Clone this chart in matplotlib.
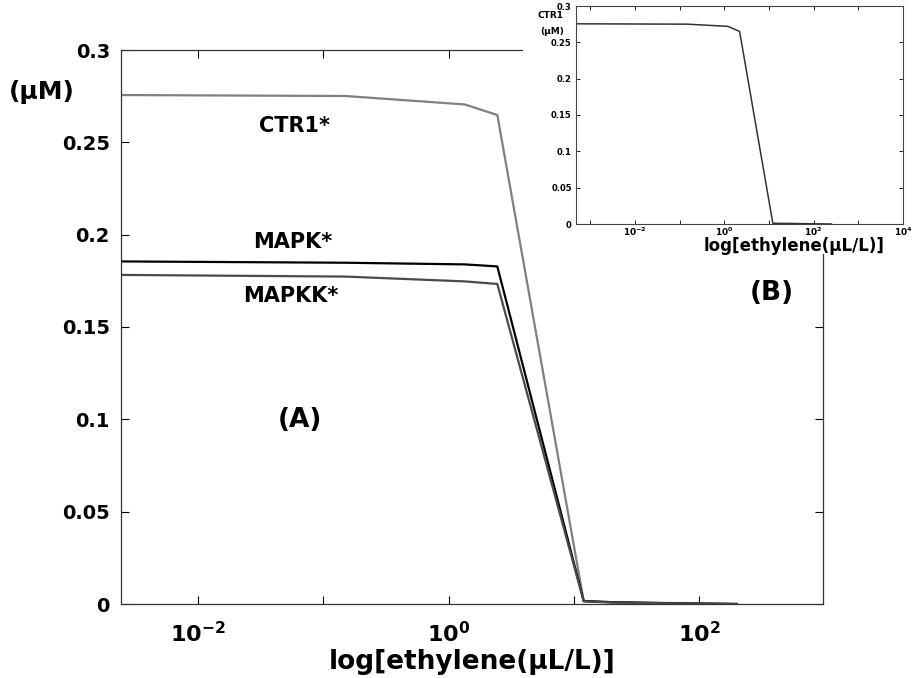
import numpy as np
import matplotlib
matplotlib.use("Agg")
import matplotlib.pyplot as plt
from matplotlib.ticker import NullFormatter, FixedLocator

plt.rcParams['font.family'] = ['DejaVu Sans']
plt.rcParams['font.weight'] = 'bold'
plt.rcParams['mathtext.default'] = 'bf'

# main panel (A): steady-state levels vs ethylene
eth = [0.0025, 0.15, 1.35, 2.45, 12.0, 20.0, 50.0, 200.0]
ctr1 = [0.2756, 0.2751, 0.2705, 0.2648, 0.0016, 0.0010, 0.0006, 0.0]
mapk = [0.1855, 0.1848, 0.1839, 0.1828, 0.0016, 0.0010, 0.0005, 0.0]
mapkk = [0.1782, 0.1773, 0.1747, 0.1733, 0.0014, 0.0008, 0.0004, 0.0]

# inset panel (B): CTR1 alone
eth_b = [5e-4, 0.15, 1.2, 2.2, 12.2, 250.0]
ctr1_b = [0.2755, 0.2750, 0.2720, 0.2650, 0.001, 0.0]

yticks = [0, 0.05, 0.1, 0.15, 0.2, 0.25, 0.3]
ylabels = ['0', '0.05', '0.1', '0.15', '0.2', '0.25', '0.3']

W, H = 913, 678
fig = plt.figure(figsize=(W / 100, H / 100), dpi=100)

def box(l, t, r, b):
    return [l / W, 1 - b / H, (r - l) / W, (b - t) / H]

ax = fig.add_axes(box(121, 50, 823, 604), zorder=1)
ax.plot(eth, ctr1, color='#808080', lw=1.6)
ax.plot(eth, mapk, color='black', lw=1.6)
ax.plot(eth, mapkk, color='#4a4a4a', lw=1.6)
ax.set_xscale('log')
ax.set_xlim(10 ** -2.616, 10 ** 2.99)
ax.set_ylim(0, 0.3)
ax.set_yticks(yticks)
ax.set_yticklabels(ylabels, fontsize=14)
ax.xaxis.set_major_locator(FixedLocator([1e-2, 1e0, 1e2]))
ax.xaxis.set_minor_locator(FixedLocator([1e-1, 1e1]))
ax.xaxis.set_minor_formatter(NullFormatter())
ax.set_xticklabels([r'$10^{-2}$', r'$10^{0}$', r'$10^{2}$'], fontsize=16)
ax.tick_params(which='both', direction='in', top=True, right=True, length=6, width=0.8, pad=8)
ax.tick_params(axis='x', pad=12)
for s in ax.spines.values():
    s.set_linewidth(0.9)
    s.set_color('#333333')
ax.set_xlabel('log[ethylene(\u00b5L/L)]', fontsize=19, fontweight='bold', labelpad=2)
fig.text(42 / W, 1 - 92 / H, '(\u00b5M)', fontsize=18, fontweight='bold', ha='center', va='center')

for t, x, y in [('CTR1*', 294, 126), ('MAPK*', 293, 242), ('MAPKK*', 291, 296),
                ('(A)', 300, 420), ('(B)', 772, 293)]:
    fs = 19 if t.startswith('(') else 15
    fig.text(x / W, 1 - y / H, t, fontsize=fs, fontweight='bold', ha='center', va='center', zorder=5)

# white cover behind the inset, hiding the corner of the main frame
cover = fig.add_axes(box(523, 0, 913, 254), zorder=2)
cover.set_facecolor('white')
cover.set_xticks([])
cover.set_yticks([])
for s in cover.spines.values():
    s.set_visible(False)

ins = fig.add_axes(box(576, 6, 903, 224), zorder=3)
ins.plot(eth_b, ctr1_b, color='#333333', lw=1.1)
ins.set_xscale('log')
ins.set_xlim(10 ** -3.32, 1e4)
ins.set_ylim(0, 0.3)
ins.set_yticks(yticks)
ins.set_yticklabels(ylabels, fontsize=6)
ins.xaxis.set_major_locator(FixedLocator([1e-2, 1e0, 1e2, 1e4]))
ins.xaxis.set_minor_locator(FixedLocator([1e-3, 1e-1, 1e1, 1e3]))
ins.xaxis.set_minor_formatter(NullFormatter())
ins.set_xticklabels([r'$10^{-2}$', r'$10^{0}$', r'$10^{2}$', r'$10^{4}$'], fontsize=6.5)
ins.tick_params(which='both', direction='in', top=True, right=True, length=3, width=0.6, pad=3)
ins.tick_params(axis='x', pad=1.5)
for s in ins.spines.values():
    s.set_linewidth(0.8)
    s.set_color('#444444')
fig.text(794 / W, 1 - 246 / H, 'log[ethylene(\u00b5L/L)]', fontsize=12, fontweight='bold',
         ha='center', va='center', zorder=6)
fig.text(550 / W, 1 - 15 / H, 'CTR1', fontsize=6.5, fontweight='bold', ha='center', va='center', zorder=6)
fig.text(552 / W, 1 - 31 / H, '(\u00b5M)', fontsize=6.5, fontweight='bold', ha='center', va='center', zorder=6)

fig.savefig('out.png', dpi=100)
